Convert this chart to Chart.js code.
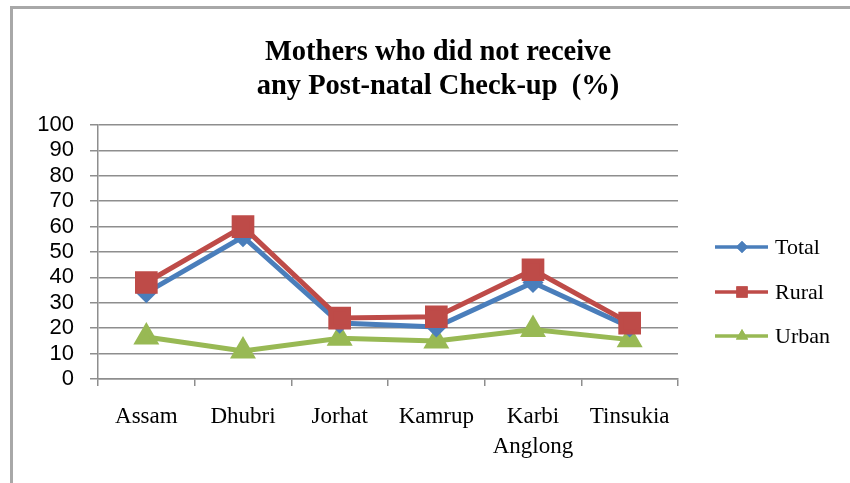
<!DOCTYPE html>
<html>
<head>
<meta charset="utf-8">
<script src="https://cdn.jsdelivr.net/npm/chart.js@4/dist/chart.umd.min.js"></script>
<style>
  html, body { margin: 0; padding: 0; background: #fff; }
  #wrap { width: 850px; height: 483px; }
</style>
</head>
<body>
<div id="wrap"><canvas id="chart" width="850" height="483"></canvas></div>
<script>
const categories = ["Assam", "Dhubri", "Jorhat", "Kamrup", ["Karbi", "Anglong"], "Tinsukia"];
const totalValues = [34, 56, 22, 20.5, 38, 20.5];
const ruralValues = [38, 60, 24, 24.5, 43, 22];
const urbanValues = [16.5, 11, 16, 15, 19.5, 15.5];
const yTicks = [0, 10, 20, 30, 40, 50, 60, 70, 80, 90, 100];
const titleLines = ["Mothers who did not receive", "any Post-natal Check-up  (%)"];

const blue = "#4a7ebb";
const red = "#be4b48";
const green = "#98b954";
const gridGray = "#8e8e8e";

// white background, grey frame and the title (centred on the whole chart object)
const framePlugin = {
  id: "frame",
  beforeDraw(chart) {
    const ctx = chart.ctx;
    ctx.save();
    ctx.fillStyle = "#fff";
    ctx.fillRect(0, 0, chart.width, chart.height);
    ctx.strokeStyle = "#a8a8a8";
    ctx.lineWidth = 3;
    ctx.beginPath();
    ctx.moveTo(11.5, chart.height);
    ctx.lineTo(11.5, 7.5);
    ctx.lineTo(chart.width, 7.5);
    ctx.stroke();

    ctx.fillStyle = "#000";
    ctx.font = "bold 28.5px 'Liberation Serif'";
    ctx.textAlign = "center";
    ctx.textBaseline = "alphabetic";
    ctx.fillText(titleLines[0], 438, 60);
    ctx.fillText(titleLines[1], 438, 94);
    ctx.restore();
  },
};

// legend drawn like the office one: short line with the marker in the middle
const legendPlugin = {
  id: "lineLegend",
  afterDraw(chart) {
    const ctx = chart.ctx;
    const rows = [247, 292, 336];
    ctx.save();
    chart.data.datasets.forEach((ds, i) => {
      const y = rows[i];
      ctx.strokeStyle = ds.borderColor;
      ctx.lineWidth = 3.5;
      ctx.beginPath();
      ctx.moveTo(715, y);
      ctx.lineTo(768, y);
      ctx.stroke();
      ctx.fillStyle = ds.borderColor;
      Chart.helpers.drawPoint(ctx, {
        pointStyle: ds.pointStyle,
        radius: ds.legendRadius,
        borderWidth: 0,
      }, 742, y);
      ctx.fill();
      ctx.fillStyle = "#000";
      ctx.font = "22px 'Liberation Serif'";
      ctx.textBaseline = "middle";
      ctx.textAlign = "left";
      ctx.fillText(ds.label, 775, y + 1);
    });
    ctx.restore();
  },
};

const ctx = document.getElementById("chart").getContext("2d");

new Chart(ctx, {
  type: "line",
  data: {
    labels: categories,
    datasets: [
      {
        label: "Total",
        data: totalValues,
        borderColor: blue,
        backgroundColor: blue,
        borderWidth: 5,
        pointStyle: "rectRot",
        pointRadius: 7,
        legendRadius: 6,
        order: 1,
      },
      {
        label: "Rural",
        data: ruralValues,
        borderColor: red,
        backgroundColor: red,
        borderWidth: 5,
        pointStyle: "rect",
        pointRadius: 12.5,
        legendRadius: 8,
        order: 0,
      },
      {
        label: "Urban",
        data: urbanValues,
        borderColor: green,
        backgroundColor: green,
        borderWidth: 5,
        pointStyle: "triangle",
        pointRadius: 10,
        legendRadius: 7,
        order: 2,
      },
    ],
  },
  options: {
    responsive: false,
    animation: false,
    layout: { padding: { left: 0, right: 172, top: 125, bottom: 0 } },
    plugins: {
      legend: { display: false },
      tooltip: { enabled: false },
      title: { display: false },
    },
    elements: {
      line: { tension: 0 },
      point: { borderWidth: 0 },
    },
    scales: {
      x: {
        offset: true,
        grid: {
          offset: true,
          drawOnChartArea: false,
          drawTicks: true,
          tickLength: 7,
          color: gridGray,
          lineWidth: 1.5,
        },
        border: { display: true, color: gridGray, width: 1.5 },
        ticks: {
          color: "#000",
          padding: 16,
          maxRotation: 0,
          autoSkip: false,
          font: { family: "'Liberation Serif'", size: 23, lineHeight: 1.3 },
        },
        afterFit(scale) { scale.height = 104; },
      },
      y: {
        min: 0,
        max: 100,
        afterBuildTicks(scale) { scale.ticks = yTicks.map((v) => ({ value: v })); },
        grid: {
          color: gridGray,
          lineWidth: 1.5,
          drawTicks: true,
          tickLength: 8,
        },
        border: { display: true, color: gridGray, width: 1.5 },
        ticks: {
          color: "#000",
          padding: 16,
          autoSkip: false,
          font: { family: "'Liberation Sans'", size: 22 },
        },
        afterFit(scale) { scale.width = 98; },
      },
    },
  },
  plugins: [framePlugin, legendPlugin],
});
</script>
</body>
</html>
